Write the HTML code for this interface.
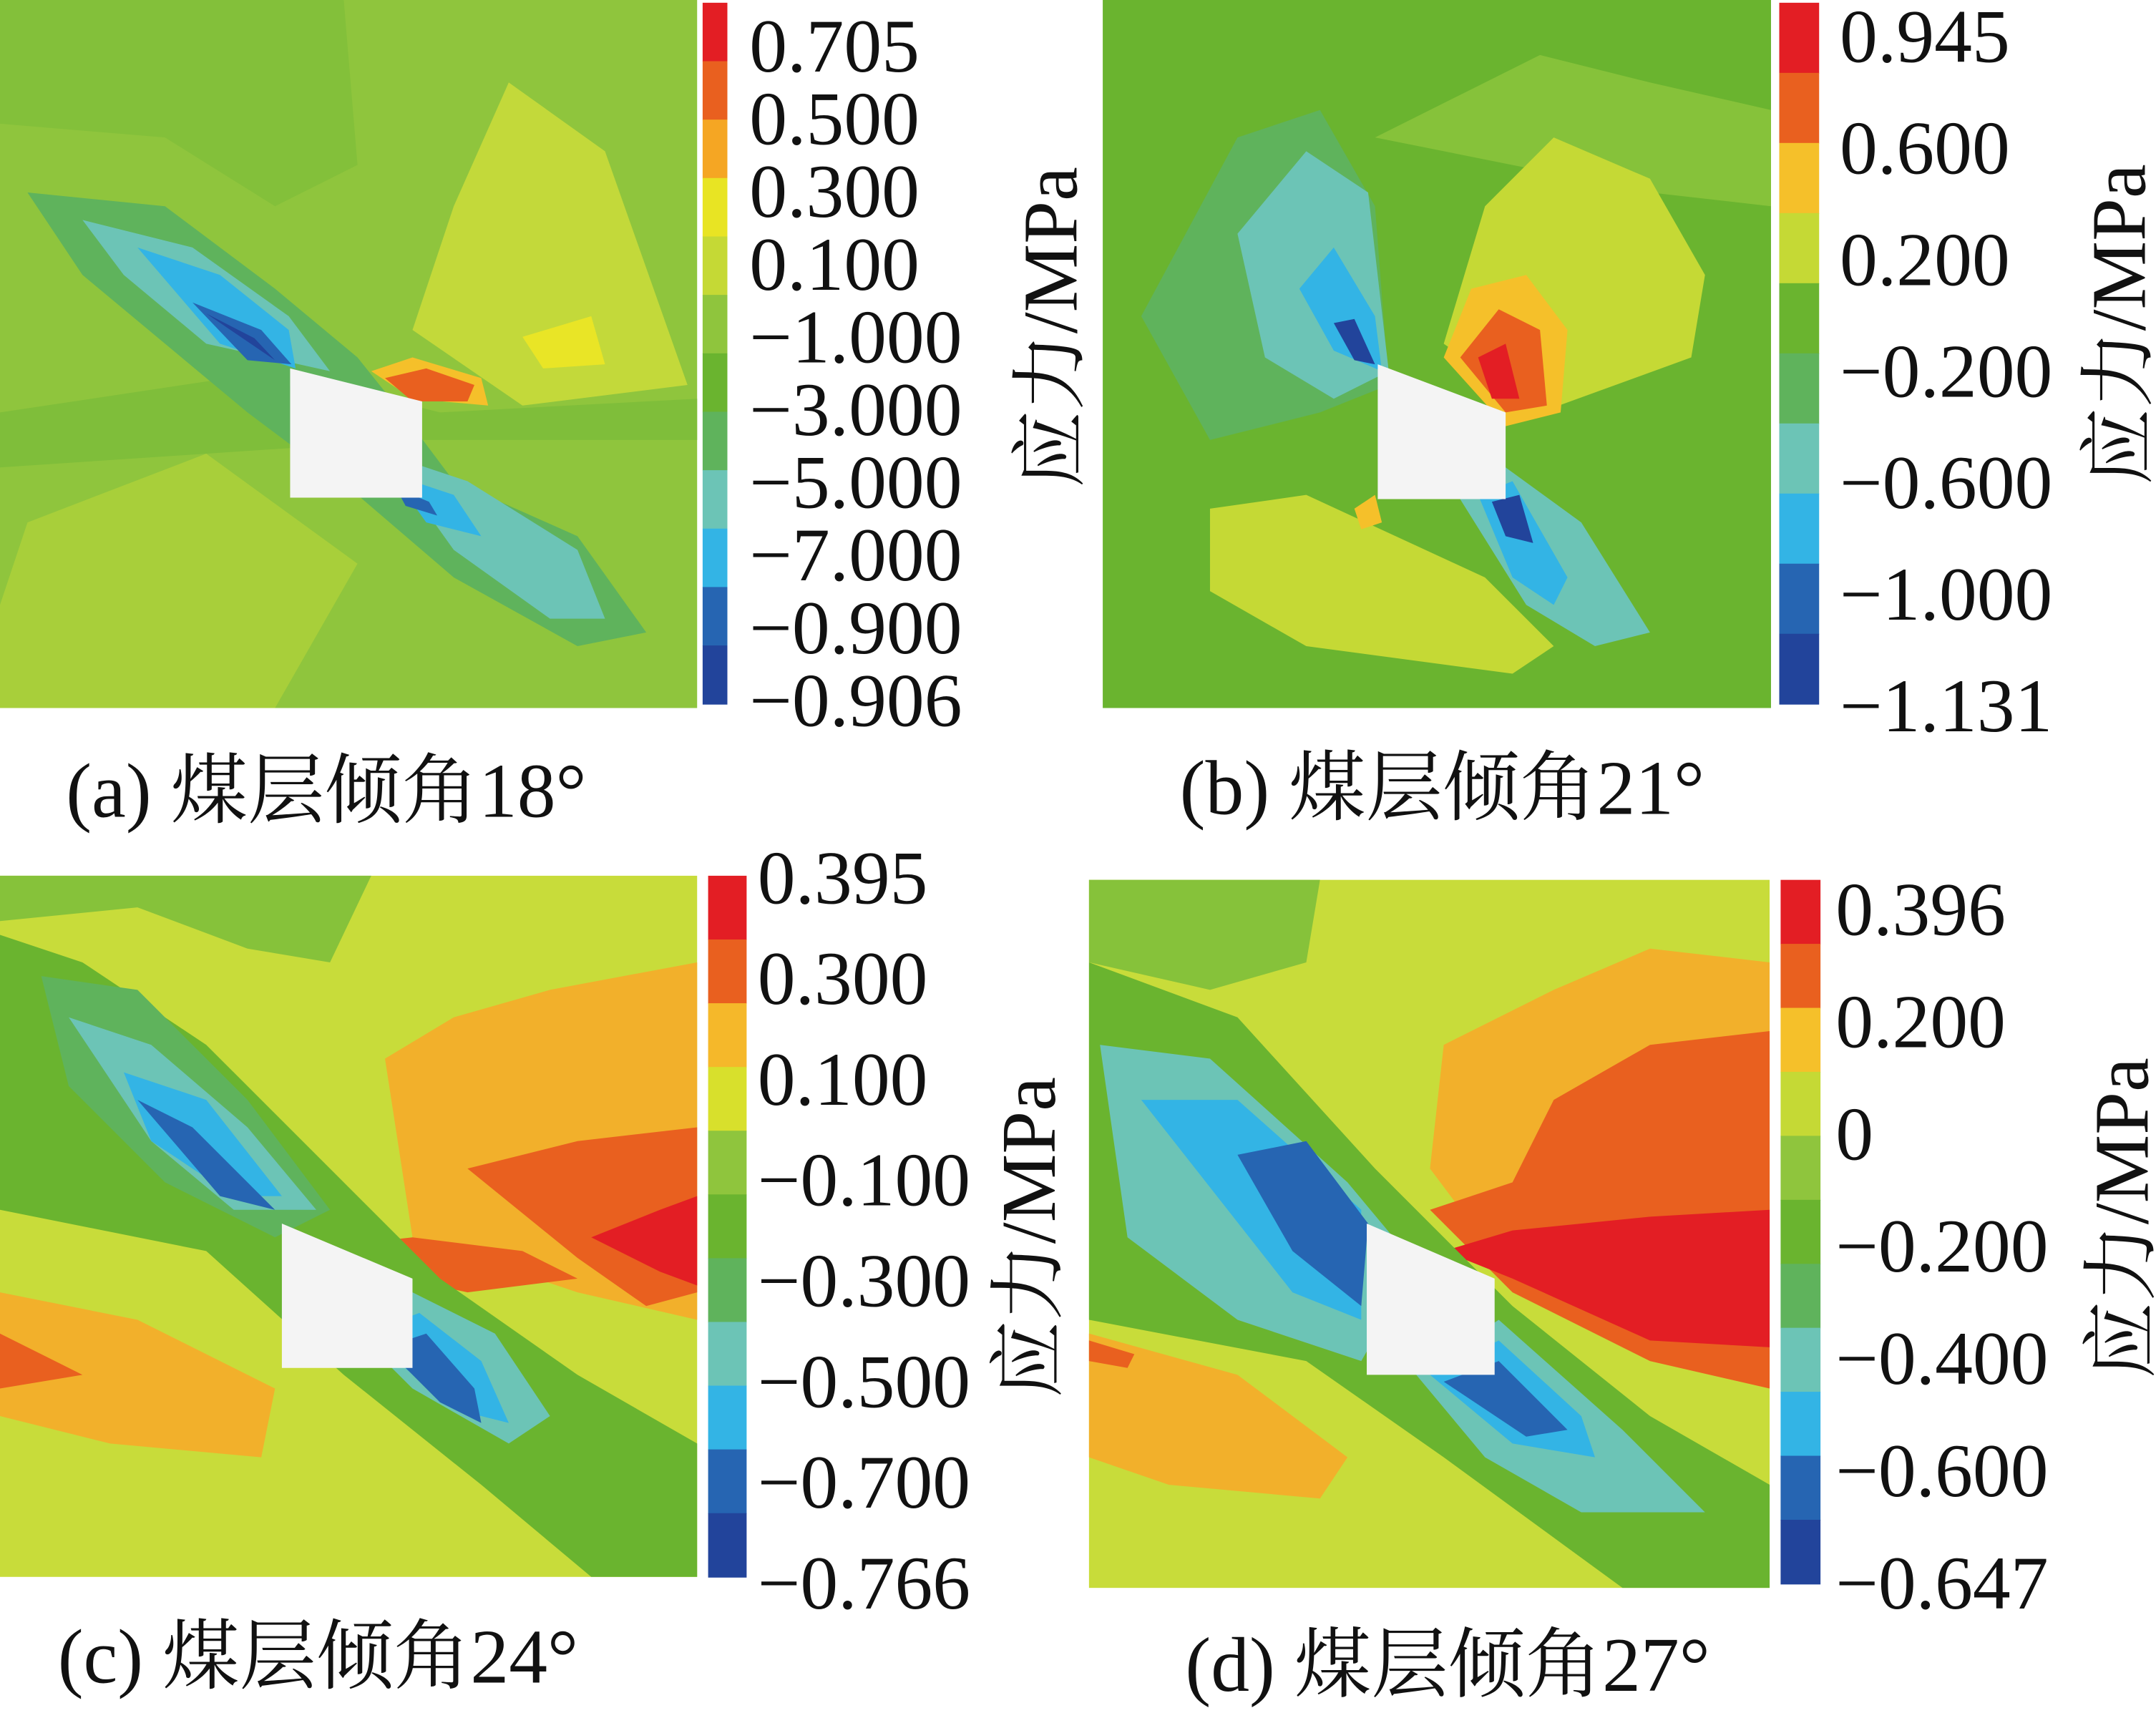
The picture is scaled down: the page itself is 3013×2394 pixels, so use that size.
<!DOCTYPE html>
<html><head><meta charset="utf-8"><style>
html,body{margin:0;padding:0;background:#fff}
svg{display:block}
text{font-family:"Liberation Serif","Noto Serif CJK SC",serif;fill:#111}
</style></head><body>
<svg id="fig" width="3013" height="2394" viewBox="0 0 1568 1246" preserveAspectRatio="none" xmlns="http://www.w3.org/2000/svg">
<!-- Panel A -->
<g>
<rect x="0" y="0" width="507" height="515" fill="#8fc53d"/>
<polygon points="0,0 250,0 260,120 200,150 120,100 0,90" fill="#83c03a"/>
<polygon points="300,240 330,150 370,60 440,110 500,280 380,295" fill="#c3d93a"/>
<polygon points="380,245 430,230 440,265 395,268" fill="#e9e526"/>
<polygon points="0,300 200,270 320,300 507,290 507,320 300,320 0,340" fill="#7fbe3a"/>
<polygon points="20,140 120,150 200,210 260,260 300,310 330,350 420,390 470,460 420,470 330,420 260,360 180,300 60,200" fill="#5fb35c"/>
<polygon points="60,160 140,180 210,230 240,270 150,250 90,200" fill="#6cc4b6"/>
<polygon points="100,180 160,200 210,240 215,268 160,250" fill="#33b4e5"/>
<polygon points="140,220 190,240 212,265 180,262" fill="#2665b2"/>
<polygon points="150,228 185,246 200,262" fill="#22449b"/>
<polygon points="280,330 340,350 420,400 440,450 400,450 330,400" fill="#6cc4b6"/>
<polygon points="285,345 330,360 350,390 310,380" fill="#33b4e5"/>
<polygon points="288,355 312,365 318,375 295,368" fill="#2665b2"/>
<polygon points="270,270 300,260 350,275 355,295 300,290" fill="#f5c02a"/>
<polygon points="280,275 310,268 345,280 340,292 300,292" fill="#e9601f"/>
<polygon points="20,380 150,330 260,410 200,515 0,515 0,440" fill="#a8cf3a"/>
<polygon points="211,268 307,292 307,362 211,362" fill="#f4f4f4"/>
</g>
<!-- Panel B -->
<g>
<rect x="802" y="0" width="486" height="515" fill="#6ab42f"/>
<polygon points="1000,100 1060,70 1120,40 1200,60 1288,80 1288,150 1200,140" fill="#86c23a"/>
<polygon points="1050,250 1080,150 1130,100 1200,130 1240,200 1230,260 1120,300" fill="#c5d935"/>
<polygon points="1050,260 1070,210 1110,200 1140,240 1135,300 1095,310" fill="#f5c02a"/>
<polygon points="1062,260 1090,225 1120,240 1125,295 1095,300" fill="#e9601f"/>
<polygon points="1075,260 1095,250 1105,290 1085,290" fill="#e31e24"/>
<polygon points="830,230 900,100 960,80 1000,150 1010,280 960,300 880,320" fill="#5fb35c"/>
<polygon points="900,170 950,110 995,140 1010,270 970,290 920,260" fill="#6cc4b6"/>
<polygon points="945,210 970,180 1000,230 1005,270 970,255" fill="#33b4e5"/>
<polygon points="970,235 985,232 1000,265 985,262" fill="#22449b"/>
<polygon points="1060,360 1095,340 1150,380 1200,460 1160,470 1110,440" fill="#6cc4b6"/>
<polygon points="1075,360 1100,350 1140,420 1130,440 1100,420" fill="#33b4e5"/>
<polygon points="1085,365 1105,360 1115,395 1095,390" fill="#22449b"/>
<polygon points="880,370 950,360 1080,420 1130,470 1100,490 950,470 880,430" fill="#c5d935"/>
<polygon points="985,370 1000,360 1005,380 990,385" fill="#f5c02a"/>
<polygon points="1002,265 1095,300 1095,363 1002,363" fill="#f4f4f4"/>
</g>
<!-- Panel C -->
<g>
<rect x="0" y="637" width="507" height="510" fill="#c8dc3a"/>
<polygon points="0,637 270,637 240,700 180,690 100,660 0,670" fill="#86c23a"/>
<polygon points="280,770 330,740 400,720 507,700 507,960 420,940 300,900" fill="#f2b02b"/>
<polygon points="340,850 420,830 507,820 507,940 470,950 420,915" fill="#e9601f"/>
<polygon points="430,900 480,880 507,870 507,935 480,925" fill="#e31e24"/>
<polygon points="255,905 300,900 380,910 420,930 340,940 270,925" fill="#e9601f"/>
<polygon points="0,680 60,700 150,760 250,860 320,930 420,1000 507,1050 507,1147 430,1147 350,1080 250,1000 150,910 0,880" fill="#6ab42f"/>
<polygon points="30,710 100,720 180,800 240,880 200,900 120,860 50,790" fill="#5fb35c"/>
<polygon points="50,740 110,760 180,820 230,880 170,880 110,830" fill="#6cc4b6"/>
<polygon points="90,780 150,800 205,870 170,870 110,830" fill="#33b4e5"/>
<polygon points="100,800 140,820 200,880 160,870" fill="#2665b2"/>
<polygon points="250,960 300,940 360,970 400,1030 370,1050 300,1010" fill="#6cc4b6"/>
<polygon points="265,970 305,955 350,990 370,1035 330,1025" fill="#33b4e5"/>
<polygon points="280,980 310,970 345,1010 350,1035 320,1020" fill="#2665b2"/>
<polygon points="0,940 100,960 200,1010 190,1060 80,1050 0,1030" fill="#f2b02b"/>
<polygon points="0,970 40,990 60,1000 0,1010" fill="#e9601f"/>
<polygon points="205,890 300,930 300,995 205,995" fill="#f4f4f4"/>
</g>
<!-- Panel D -->
<g>
<rect x="792" y="640" width="495" height="515" fill="#c8dc3a"/>
<polygon points="792,640 960,640 950,700 880,720 792,700" fill="#86c23a"/>
<polygon points="1040,850 1050,760 1130,720 1200,690 1287,700 1287,1010 1200,990 1100,930" fill="#f2b02b"/>
<polygon points="1040,880 1100,860 1130,800 1200,760 1287,750 1287,1010 1200,990 1100,940" fill="#e9601f"/>
<polygon points="1050,910 1100,895 1200,885 1287,880 1287,980 1200,975 1100,930" fill="#e31e24"/>
<polygon points="792,700 900,740 1000,850 1100,950 1200,1030 1287,1080 1287,1155 1180,1155 1050,1060 950,990 792,960" fill="#6ab42f"/>
<polygon points="800,760 880,770 980,860 1030,920 990,990 900,960 820,900" fill="#6cc4b6"/>
<polygon points="830,800 900,800 990,880 990,960 940,940" fill="#33b4e5"/>
<polygon points="900,840 950,830 995,890 990,950 940,910" fill="#2665b2"/>
<polygon points="1030,1000 1090,960 1180,1040 1240,1100 1150,1100 1080,1060" fill="#6cc4b6"/>
<polygon points="1040,1000 1090,975 1150,1030 1160,1060 1100,1050" fill="#33b4e5"/>
<polygon points="1050,1005 1090,990 1140,1040 1110,1045" fill="#2665b2"/>
<polygon points="792,970 900,1000 980,1060 960,1090 850,1080 792,1060" fill="#f2b02b"/>
<polygon points="792,975 825,985 820,995 792,990" fill="#e9601f"/>
<polygon points="994,890 1087,930 1087,1000 994,1000" fill="#f4f4f4"/>
</g>
<g id="bars"></g>
<g>
<text x="48" y="594" font-size="56">(a) 煤层倾角18°</text>
<text x="858" y="592" font-size="56">(b) 煤层倾角21°</text>
<text x="42" y="1224" font-size="56">(c) 煤层倾角24°</text>
<text x="862" y="1230" font-size="56">(d) 煤层倾角27°</text>
</g>
</svg>
<script>
const labelsA = ["0.705","0.500","0.300","0.100","−1.000","−3.000","−5.000","−7.000","−0.900","−0.906"];
const colorsA = ["#e31e24","#e9601f","#f5a623","#e8e423","#c5d935","#8fc53d","#6ab42f","#5fb35c","#6cc4b6","#33b4e5","#2665b2","#22449b"];
const labelsB = ["0.945","0.600","0.200","−0.200","−0.600","−1.000","−1.131"];
const colorsB = ["#e31e24","#e9601f","#f5c02a","#c5d935","#6ab42f","#5fb35c","#6cc4b6","#33b4e5","#2665b2","#22449b"];
const labelsC = ["0.395","0.300","0.100","−0.100","−0.300","−0.500","−0.700","−0.766"];
const colorsC = ["#e31e24","#e9601f","#f5b82a","#d8e02c","#8fc53d","#6ab42f","#5fb35c","#6cc4b6","#33b4e5","#2665b2","#22449b"];
const labelsD = ["0.396","0.200","0","−0.200","−0.400","−0.600","−0.647"];
const colorsD = ["#e31e24","#e9601f","#f5c02a","#c5d935","#8fc53d","#6ab42f","#5fb35c","#6cc4b6","#33b4e5","#2665b2","#22449b"];
const NS="http://www.w3.org/2000/svg";
const g=document.getElementById('bars');
function bar(id,colors,labels,x,w,y0,y1,lx,ly0,ly1,tx,ty){
  const h=(y1-y0)/colors.length;
  colors.forEach((c,i)=>{
    const r=document.createElementNS(NS,'rect');
    r.setAttribute('x',x);r.setAttribute('y',y0+i*h);r.setAttribute('width',w);r.setAttribute('height',h+0.5);r.setAttribute('fill',c);
    
    
    g.appendChild(r);
  });
  const s=(ly1-ly0)/(labels.length-1);
  labels.forEach((l,i)=>{
    const t=document.createElementNS(NS,'text');
    t.setAttribute('x',lx);t.setAttribute('y',ly0+i*s);t.setAttribute('font-size','55');
    t.textContent=l;
    
    
    g.appendChild(t);
  });
  const t=document.createElementNS(NS,'text');
  t.setAttribute('transform','translate('+tx+','+ty+') rotate(-90)');
  t.setAttribute('text-anchor','middle');t.setAttribute('font-size','56');
  t.textContent='应力/MPa';
  
  
  g.appendChild(t);
}
bar('a',colorsA,labelsA,511,18,2,512,545,52,528,783,238);
bar('b',colorsB,labelsB,1294,29,2,512,1338,45,532,1560,236);
bar('c',colorsC,labelsC,515,28,637,1147,551,657,1170,767,900);
bar('d',colorsD,labelsD,1295,29,640,1152,1335,680,1170,1562,886);
</script>
</body></html>
